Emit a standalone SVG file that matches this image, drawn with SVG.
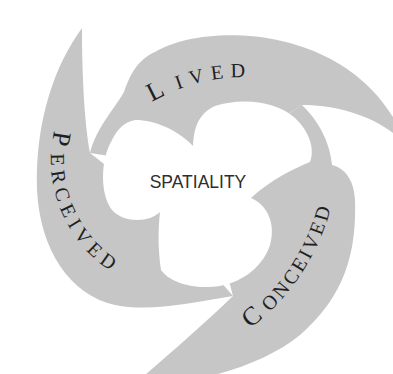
<svg xmlns="http://www.w3.org/2000/svg" width="393" height="374" viewBox="0 0 393 374">
  <style>
    .band { fill: #c6c6c6; stroke: none; }
    .hole { fill: #ffffff; stroke: none; }
    .lbl { font-family: "Liberation Serif", "Times New Roman", serif; font-size: 20px; fill: #1f1f1f; }
    .init { font-size: 26px; }
    .center { font-family: "Liberation Sans", Arial, sans-serif; font-size: 17.5px; fill: #2e2e2e; }
  </style>
  <defs>
    <path id="arcLived" d="M 71.2,198.7 A 185 185 0 0 1 368.8,124.5"/>
    <path id="arcPerceived" d="M 68.8,93.5 A 133 133 0 0 0 151.8,289.1"/>
    <path id="arcConceived" d="M 155.4,369.6 A 221 221 0 0 0 332.3,102.3"/>
  </defs>
  <rect width="393" height="374" fill="#ffffff"/>

  <g id="perceived">
    <path class="band" d="M 82,28 C 82,70 84,120 90,153 L 150,200 L 233,296 C 190,303 150,312 115,305 C 70,295 40,250 37,190 C 35,120 55,65 82,28 Z"/>
    <text class="lbl" letter-spacing="5.5"><textPath href="#arcPerceived" startOffset="50%" text-anchor="middle"><tspan class="init">P</tspan><tspan dx="3">ERCEIVED</tspan></textPath></text>
  </g>

  <g id="lived">
    <path class="band" d="M 90,153 C 96,128 115,108 124,92 C 130,75 137,60 155,52 C 200,24 335,22 393,117 L 404,134 L 393,133 C 370,115 335,105 302,105 L 200,170 Z"/>
    <text class="lbl" letter-spacing="7"><textPath href="#arcLived" startOffset="50%" text-anchor="middle"><tspan class="init">L</tspan><tspan dx="6">IVED</tspan></textPath></text>
  </g>

  <g id="conceived">
    <path class="band" d="M 302,105 C 318,120 330,142 332,165 C 345,168 354,180 355,200 C 357,260 340,300 300,335 C 260,368 190,385 130,388 C 160,362 200,328 233,296 L 200,170 Z"/>
    <text class="lbl" letter-spacing="2.8"><textPath href="#arcConceived" startOffset="50%" text-anchor="middle"><tspan class="init">C</tspan><tspan dx="5">ONCEIVED</tspan></textPath></text>
  </g>

  <g id="connectors"></g>

  <g id="spatiality">
    <path class="hole" d="M 193,146 C 194,128 198,114 215,106 C 240,98 275,100 295,118 C 310,132 315,150 310,162 C 295,168 270,180 251,198 C 268,205 276,225 270,245 C 262,270 235,288 205,287 C 185,287 168,280 161,270 C 158,250 158,230 160,212 C 150,222 125,224 112,210 C 100,195 100,160 112,140 C 118,128 125,122 135,120 C 155,120 178,130 193,146 Z"/>
    <text class="center" x="198" y="188" text-anchor="middle">SPATIALITY</text>
  </g>
</svg>
